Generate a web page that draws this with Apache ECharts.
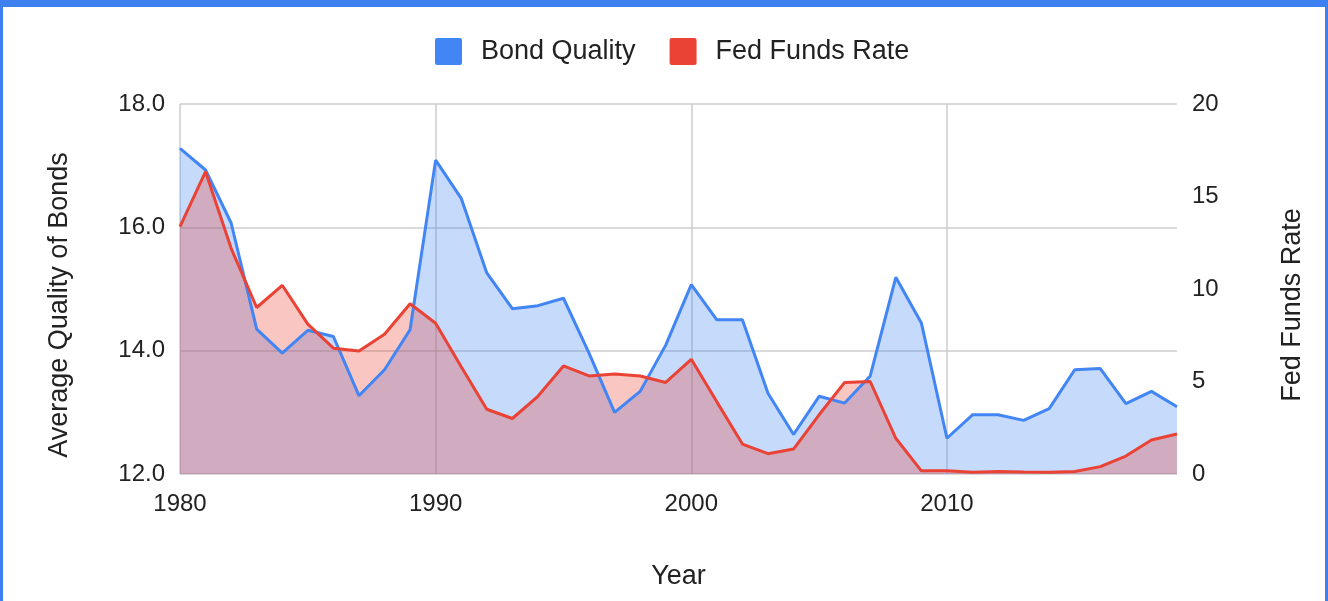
<!DOCTYPE html>
<html lang="en">
<head>
    <meta charset="UTF-8">
    <title>Bond Quality vs Fed Funds Rate</title>
    <script src="https://cdn.jsdelivr.net/npm/echarts@6/dist/echarts.min.js"></script>
    <style>
        body { margin: 0; background: #fff; }
        #frame {
            position: absolute; left: 0; top: 0; width: 1328px; height: 601px;
            box-sizing: border-box; border: 3px solid #3d80f0; border-top-width: 7px; border-bottom: none;
            pointer-events: none;
        }
    </style>
</head>
<body>
    <div id="main" style="width: 1328px;height:601px;"></div>
    <div id="frame"></div>
    <script type="text/javascript">

        // years on the x axis
        var years = [];
        for (var y = 1980; y <= 2019; y++) years.push(String(y));

        // average quality of bonds (left axis)
        var bondQuality = [
            17.28, 16.93, 16.07, 14.35, 13.96, 14.33, 14.23, 13.27, 13.69, 14.34,
            17.09, 16.47, 15.26, 14.68, 14.73, 14.85, 13.96, 13.00, 13.34, 14.09,
            15.07, 14.50, 14.50, 13.31, 12.64, 13.26, 13.15, 13.59, 15.19, 14.45,
            12.58, 12.96, 12.96, 12.87, 13.06, 13.69, 13.71, 13.14, 13.34, 13.09
        ];

        // fed funds rate (right axis)
        var fedFunds = [
            13.37, 16.34, 12.20, 9.00, 10.20, 8.10, 6.80, 6.65, 7.55, 9.20,
            8.15, 5.80, 3.50, 3.00, 4.20, 5.84, 5.30, 5.40, 5.30, 4.95,
            6.20, 3.90, 1.62, 1.10, 1.35, 3.20, 4.95, 5.00, 1.93, 0.17,
            0.18, 0.10, 0.14, 0.11, 0.09, 0.13, 0.40, 0.97, 1.84, 2.16
        ];

        var fontName = 'Liberation Sans, Arial, sans-serif';

        var chartDom = document.getElementById('main');
        var myChart = echarts.init(chartDom);
        var option;

        option = {
            animation: false,
            textStyle: { fontFamily: fontName },
            legend: {
                top: 33,
                left: 430,
                icon: 'path://M2,0 L24,0 Q26,0 26,2 L26,24 Q26,26 24,26 L2,26 Q0,26 0,24 L0,2 Q0,0 2,0 Z',
                itemWidth: 27,
                itemHeight: 27,
                itemGap: 34,
                textStyle: { fontSize: 27, color: '#222', padding: [0, 0, 0, 14] },
                data: ['Bond Quality', 'Fed Funds Rate']
            },
            grid: {
                left: 180,
                right: 151,
                top: 104,
                bottom: 127
            },
            xAxis: {
                type: 'category',
                data: years,
                boundaryGap: false,
                name: 'Year',
                nameLocation: 'middle',
                nameGap: 89,
                nameTextStyle: { fontSize: 27, color: '#222' },
                axisLine: { show: false },
                axisTick: { show: false },
                axisLabel: {
                    fontSize: 24,
                    color: '#222',
                    margin: 18,
                    interval: function (i) { return i % 10 === 0; }
                },
                splitLine: {
                    show: true,
                    interval: function (i) { return i % 10 === 0; },
                    lineStyle: { color: '#cccccc', width: 1.5 }
                }
            },
            yAxis: [
                {
                    type: 'value',
                    min: 12,
                    max: 18,
                    interval: 2,
                    name: 'Average Quality of Bonds',
                    nameLocation: 'middle',
                    nameRotate: 90,
                    nameGap: 107,
                    nameTextStyle: { fontSize: 27, color: '#222', padding: [0, 32, 0, 0] },
                    axisLabel: {
                        fontSize: 24,
                        color: '#222',
                        margin: 15,
                        formatter: function (v) { return v.toFixed(1); }
                    },
                    axisLine: { show: false },
                    axisTick: { show: false },
                    splitLine: { lineStyle: { color: '#cccccc', width: 1.5 } }
                },
                {
                    type: 'value',
                    min: 0,
                    max: 20,
                    interval: 5,
                    name: 'Fed Funds Rate',
                    nameLocation: 'middle',
                    nameRotate: 90,
                    nameGap: 102,
                    nameTextStyle: { fontSize: 27, color: '#222', padding: [0, 32, 0, 0] },
                    axisLabel: { fontSize: 24, color: '#222', margin: 15 },
                    axisLine: { show: false },
                    axisTick: { show: false },
                    splitLine: { show: false }
                }
            ],
            series: [
                {
                    name: 'Bond Quality',
                    type: 'line',
                    yAxisIndex: 0,
                    data: bondQuality,
                    showSymbol: false,
                    color: '#4285f4',
                    lineStyle: { width: 3, color: '#4285f4' },
                    areaStyle: { origin: 'start', color: '#4285f4', opacity: 0.3 }
                },
                {
                    name: 'Fed Funds Rate',
                    type: 'line',
                    yAxisIndex: 1,
                    data: fedFunds,
                    showSymbol: false,
                    color: '#ea4335',
                    lineStyle: { width: 3, color: '#ea4335' },
                    areaStyle: { origin: 'start', color: '#ea4335', opacity: 0.3 }
                }
            ]
        };

        option && myChart.setOption(option);

    </script>
</body>
</html>
